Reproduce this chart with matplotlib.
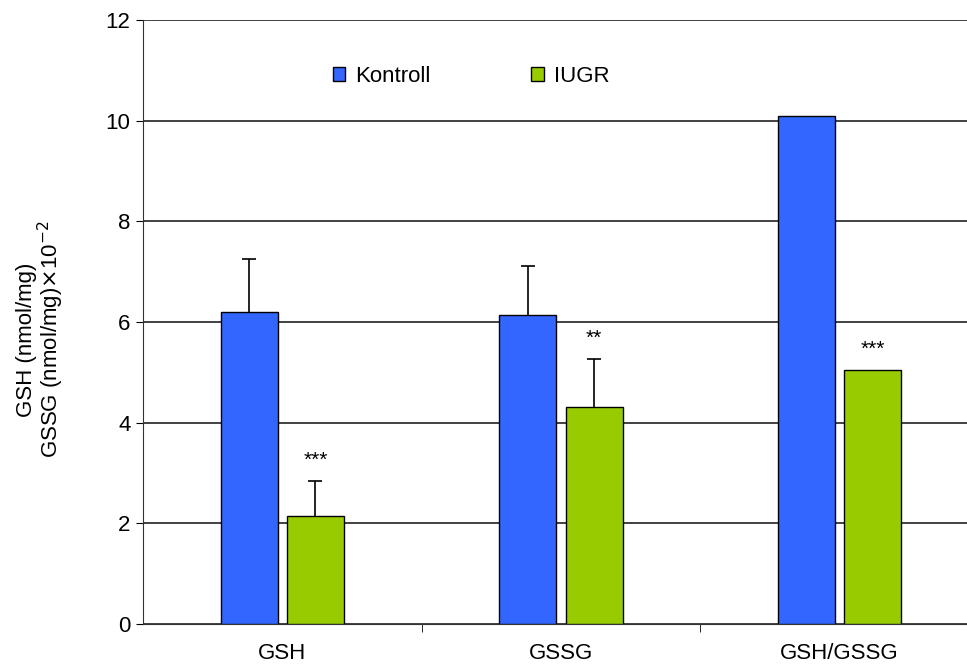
import numpy as np
import matplotlib
matplotlib.use("Agg")
import matplotlib.pyplot as plt

plt.rcParams['font.family'] = ['Liberation Sans', 'DejaVu Sans']

kategorien = ["GSH", "GSSG", "GSH/GSSG"]
kontroll = [6.2, 6.14, 10.1]
kontroll_err = [1.05, 0.97, 0.0]
iugr = [2.15, 4.31, 5.05]
iugr_err = [0.7, 0.95, 0.0]
sterne = ["***", "**", "***"]

fig = plt.figure(figsize=(9.67, 6.66), dpi=100)
ax = fig.add_axes([143/967, 42/666, 836/967, 604/666])

x = np.arange(len(kategorien))
breite = 0.205
off = 0.119

ax.bar(x - off, kontroll, breite, color='#3366FF', edgecolor='black', linewidth=1, label='Kontroll', zorder=3)
ax.bar(x + off, iugr, breite, color='#99CC00', edgecolor='black', linewidth=1, label='IUGR', zorder=3)

# nur obere Fehlerbalken
for pos, werte, fehler in [(x - off, kontroll, kontroll_err), (x + off, iugr, iugr_err)]:
    m = np.array(fehler) > 0
    eb = ax.errorbar(pos[m], np.array(werte)[m],
                     yerr=[np.zeros(m.sum()), np.array(fehler)[m]],
                     fmt='none', ecolor='black', elinewidth=1.2, capsize=4.7, capthick=1.2, zorder=4)
    eb[1][0].set_visible(False)  # untere Kappe weg

for i in range(len(kategorien)):
    top = iugr[i] + iugr_err[i]
    ax.annotate(sterne[i], (x[i] + off, top), xytext=(0, 8), textcoords='offset points',
                ha='center', va='bottom', fontsize=15)

ax.set_xlim(-0.5, 2.5)
ax.set_ylim(0, 12)
ax.set_yticks(range(0, 13, 2))
ax.set_xticks(x)
ax.set_xticklabels(kategorien, fontsize=16)
ax.set_xticks([0.5, 1.5], minor=True)
ax.tick_params(axis='x', which='major', length=0, pad=14)
ax.tick_params(axis='x', which='minor', length=6, direction='out')
ax.tick_params(axis='y', labelsize=16, length=5, direction='out', pad=4)

ax.yaxis.grid(True, color='#333333', linewidth=1.3, zorder=0)
ax.set_axisbelow(True)
ax.spines['top'].set_visible(False)
ax.spines['right'].set_visible(False)
ax.spines['left'].set_color('#333333')
ax.spines['bottom'].set_color('#333333')

fig.text(41/967, 0.49, 'GSH (nmol/mg)\nGSSG (nmol/mg)$\\times$10$^{-2}$', fontsize=16,
         rotation=90, ha='center', va='center', linespacing=0.95, multialignment='center')

ax.legend(loc='upper left', bbox_to_anchor=(0.203, 0.957), ncol=2, frameon=False,
          fontsize=16, handlelength=0.55, handleheight=0.55, columnspacing=4.55, handletextpad=0.45)

fig.savefig('out.png', dpi=100)
